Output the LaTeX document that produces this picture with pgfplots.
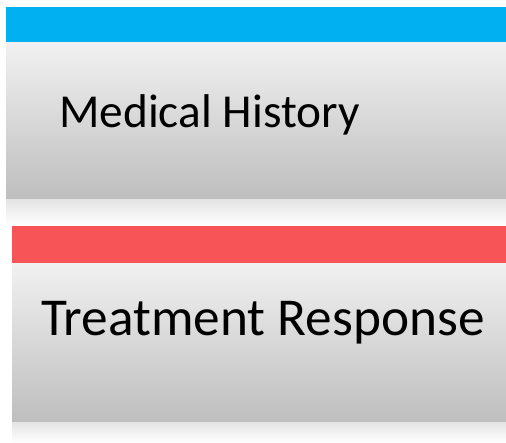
\documentclass[border=0pt]{standalone}
\usepackage{pgfplots}
\pgfplotsset{compat=1.18}
\usepackage{fontspec}
\setmainfont{Carlito}
\definecolor{topblue}{HTML}{00B0F0}
\definecolor{topred}{HTML}{F75457}
\definecolor{boxlight}{HTML}{F1F1F1}
\definecolor{boxdark}{HTML}{BEBEBE}
\definecolor{refl}{HTML}{E4E4E4}
\begin{document}
\begin{tikzpicture}
\begin{axis}[
  width=506bp, height=443bp, scale only axis,
  xmin=0, xmax=506, ymin=0, ymax=443,
  y dir=reverse, hide axis, clip=false,
]
% top block
\addplot[draw=none, fill=topblue] coordinates {(6,7) (506,7) (506,43) (6,43)} -- cycle;
\addplot[draw=none, top color=boxlight, bottom color=boxdark] coordinates {(6,43) (506,43) (506,199) (6,199)} -- cycle;
\addplot[draw=none, top color=refl, bottom color=white] coordinates {(6,199) (506,199) (506,226) (6,226)} -- cycle;
% bottom block
\addplot[draw=none, fill=topred] coordinates {(12,226) (506,226) (506,263) (12,263)} -- cycle;
\addplot[draw=none, top color=boxlight, bottom color=boxdark] coordinates {(12,263) (506,263) (506,422) (12,422)} -- cycle;
\addplot[draw=none, top color=refl, bottom color=white] coordinates {(12,422) (506,422) (506,443) (12,443)} -- cycle;
\node[anchor=base west, inner sep=0pt, font=\fontsize{47.5}{48}\selectfont] at (axis cs:59,127) {Medical History};
\node[anchor=base west, inner sep=0pt, font=\fontsize{53.5}{54}\selectfont] at (axis cs:41,335) {Treatment Response};
\end{axis}
\path (current axis.south west) rectangle (current axis.north east);
\end{tikzpicture}
\end{document}
